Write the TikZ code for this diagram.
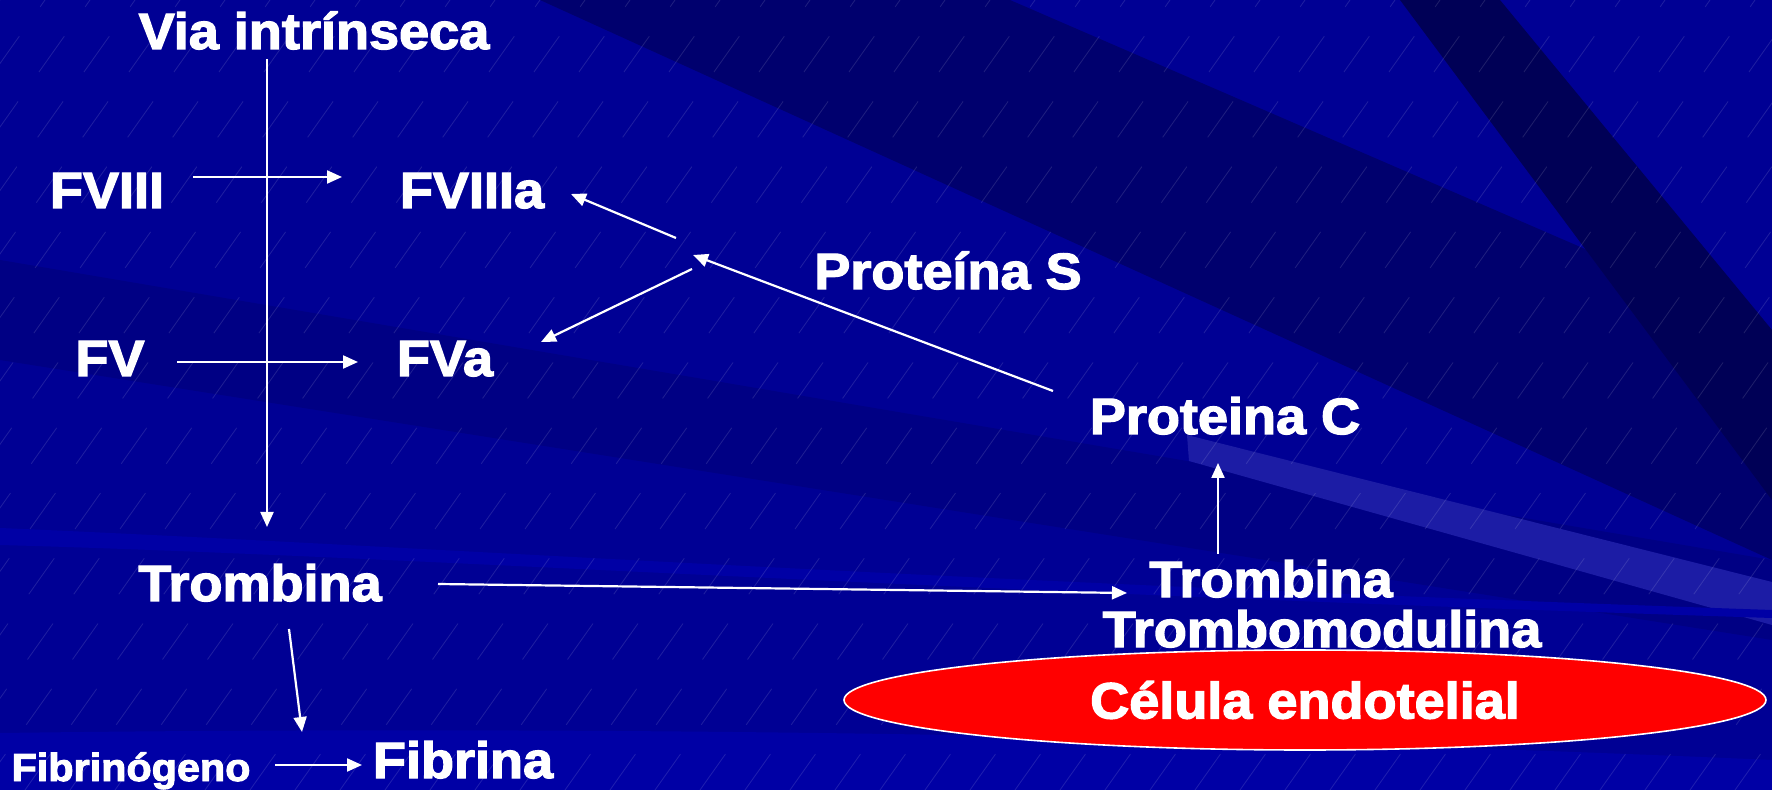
\documentclass[tikz,border=0pt]{standalone}
\usepackage{fontspec}
\setmainfont{Liberation Sans}[BoldFeatures={FakeBold=2.5}]
\usepackage{graphicx}
\usetikzlibrary{arrows.meta,shapes.geometric}
\definecolor{bgblue}{RGB}{0,0,148}
\definecolor{midband}{RGB}{0,0,132}
\definecolor{darkband}{RGB}{0,0,110}
\definecolor{darkerband}{RGB}{0,0,86}
\definecolor{lightband}{RGB}{28,28,165}
\definecolor{bottomband}{RGB}{0,0,165}
\definecolor{cellred}{RGB}{255,0,0}
\newcommand\sx[1]{\scalebox{1.06}[1]{#1}}
\tikzset{
  lab/.style={text=white,font=\bfseries\fontsize{25.5}{30}\selectfont,inner sep=0pt,anchor=base},
  smalllab/.style={lab,font=\bfseries\fontsize{19.5}{23}\selectfont},
  arr/.style={draw=white,line width=1.1pt,-{Triangle[length=7.5pt,width=6.5pt]}},
  hatch/.style={draw=white,opacity=0.12,line width=0.4pt,dash pattern=on 22pt off 18pt},
  cell/.style={ellipse,fill=cellred,draw=white,line width=0.8pt,minimum width=461pt,minimum height=50pt,inner sep=0pt}
}
\begin{document}
\begin{tikzpicture}[x=0.5pt,y=-0.5pt]
% background
\fill[bgblue] (0,0) rectangle (1772,790);
\useasboundingbox (0,0) rectangle (1772,790);
\fill[midband] (0,260) -- (0,360) -- (1772,640) -- (1772,560) -- cycle;
\fill[darkband] (540,0) -- (1010,0) -- (1772,330) -- (1772,560) -- cycle;
\fill[darkerband] (1400,0) -- (1500,0) -- (1772,330) -- (1772,500) -- cycle;
\fill[lightband] (1187,435) -- (1772,582) -- (1772,625) -- (1189,461) -- cycle;
\fill[bottomband] (0,733) .. controls (600,725) and (1200,735) .. (1772,760) -- (1772,790) -- (0,790) -- cycle;
\fill[bottomband] (0,528) .. controls (400,545) and (900,580) .. (1772,610) -- (1772,618) .. controls (900,590) and (400,556) .. (0,545) -- cycle;
\foreach \i in {-1100,-1055,...,1800}
  \draw[hatch] (\i,790) -- ++(560,-790);

% nodes
\node[lab] (via) at (314,49) {\sx{Via intrínseca}};
\node[lab] (fviii) at (107,208) {\sx{FVIII}};
\node[lab] (fviiia) at (472,208) {\sx{FVIIIa}};
\node[lab] (fv) at (110,376) {\sx{FV}};
\node[lab] (fva) at (445,376) {\sx{FVa}};
\node[lab] (pros) at (948,289) {\sx{Proteína S}};
\node[lab] (proc) at (1225,434) {\sx{Proteina C}};
\node[lab,text depth=0pt] (trombr) at (1271,597) {\sx{Trombina}};
\node[lab] (tmod) at (1322,647) {\sx{Trombomodulina}};
\node[lab] (trombl) at (260,601) {\sx{Trombina}};
\node[smalllab] (fibg) at (131,781) {\sx{Fibrinógeno}};
\node[lab] (fib) at (463,778) {\sx{Fibrina}};
\node[cell] (cel) at (1305,700) {};
\node[lab,anchor=center] (celtxt) at (cel.center) {\sx{Célula endotelial}};

% connector end points
\coordinate (vtop) at (267,59);
\coordinate (vbot) at (267,527);
\coordinate (a8s) at (193,177);
\coordinate (a8e) at (342,177);
\coordinate (a5s) at (177,362);
\coordinate (a5e) at (358,362);
\coordinate (j1) at (676,238);
\coordinate (j1e) at (571,194);
\coordinate (j2) at (692,269);
\coordinate (j2e) at (541,342);
\coordinate (pcs) at (1053,391);
\coordinate (pce) at (693,255);
\coordinate (ups) at (1218,554);
\coordinate (upe) at (1218,463);
\coordinate (hs) at (438,584);
\coordinate (he) at (1127,593);
\coordinate (ds) at (289,629);
\coordinate (de) at (302,732);
\coordinate (fs) at (275,765);
\coordinate (fe) at (362,765);

% connectors
\draw[arr] (vtop) -- (vbot);
\draw[arr] (a8s) -- (a8e);
\draw[arr] (a5s) -- (a5e);
\draw[arr] (j1) -- (j1e);
\draw[arr] (j2) -- (j2e);
\draw[arr] (pcs) -- (pce);
\draw[arr] (ups) -- (upe);
\draw[arr] (hs) -- (he);
\draw[arr] (ds) -- (de);
\draw[arr] (fs) -- (fe);
\end{tikzpicture}
\end{document}
